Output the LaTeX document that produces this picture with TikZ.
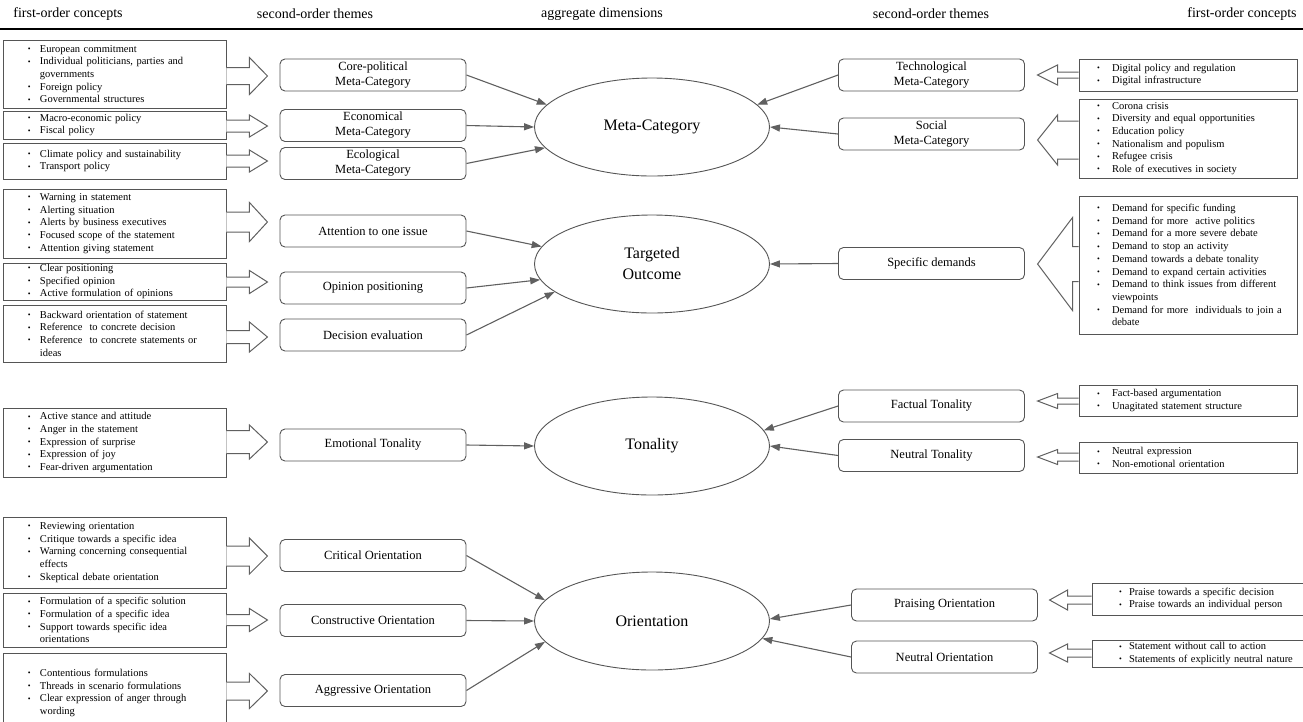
\documentclass[tikz,border=0pt]{standalone}
\usepackage{fontspec}
\setmainfont{Liberation Serif}
\usetikzlibrary{shapes.geometric,arrows.meta}

\definecolor{boxgray}{HTML}{555555}
\definecolor{linegray}{HTML}{606060}

\newlength{\bulind}
\newlength{\bulgap}
\newcommand{\itm}{\hspace*{\bulind}\makebox[\bulgap][l]{\raisebox{0.6pt}{\scalebox{0.75}{\textbullet}}}}
\newcommand{\cnt}{\hspace*{\bulind}\hspace*{\bulgap}}
% block arrows: node, centre y, shaft half, head half, shaft length, head length
\newcommand{\fatR}[6]{\draw[fat] (#1.east |- 0,#2) ++(0,-#3) -- ++(#5,0) -- ++(0,#3-#4) -- ++(#6,#4) -- ++(-#6,#4) -- ++(0,#3-#4) -- ++(-#5,0);}
\newcommand{\fatL}[6]{\draw[fat] (#1.west |- 0,#2) ++(0,-#3) -- ++(-#5,0) -- ++(0,#3-#4) -- ++(-#6,#4) -- ++(#6,#4) -- ++(0,#3-#4) -- ++(#5,0);}

\begin{document}
\begin{tikzpicture}[x=1pt,y=-1pt,
    head/.style={font=\fontsize{14}{16}\selectfont,inner sep=0pt},
    dim/.style={ellipse,draw=boxgray,line width=0.9pt,minimum width=235pt,minimum height=98pt,
        inner sep=0pt,align=center,font=\fontsize{16}{21}\selectfont},
    theme/.style={draw=boxgray,line width=0.9pt,rounded corners=5pt,minimum width=186pt,minimum height=32pt,
        inner sep=1pt,align=center,font=\fontsize{12.5}{15}\selectfont},
    lst/.style={draw=boxgray,line width=0.9pt,inner xsep=5pt,inner ysep=1pt,align=left,
        font=\fontsize{10.5}{12.7}\selectfont},
    lstL/.style={lst,text width=213pt,
        execute at begin node={\setlength{\bulind}{20pt}\setlength{\bulgap}{12pt}}},
    lstR/.style={lst,text width=208pt,
        execute at begin node={\setlength{\bulind}{13pt}\setlength{\bulgap}{15pt}}},
    lstRR/.style={lst,text width=210pt,
        execute at begin node={\setlength{\bulind}{22pt}\setlength{\bulgap}{10pt}}},
    link/.style={draw=linegray,line width=1.1pt,-{Triangle[length=10pt,width=7pt]}},
    fat/.style={draw=linegray,line width=1pt,fill=white}
  ]
\useasboundingbox (0,0) rectangle (1303,721);

% headings
\node[head] (h1) at (68,14)   {first-order concepts};
\node[head] (h2) at (315,14)  {second-order themes};
\node[head] (h3) at (602,14)  {aggregate dimensions};
\node[head] (h4) at (931,14)  {second-order themes};
\node[head] (h5) at (1242,14) {first-order concepts};
\draw[line width=1.5pt] (0,29) -- (1303,29);

% aggregate dimensions
\node[dim] (meta) at (652,127) {Meta-Category};
\node[dim] (targ) at (652,264) {Targeted\\Outcome};
\node[dim] (tone) at (652,446) {Tonality};
\node[dim] (ori)  at (652,621) {Orientation};

% second-order themes
\node[theme] (cpol) at (373,75)    {Core-political\\Meta-Category};
\node[theme] (econ) at (373,125.5) {Economical\\Meta-Category};
\node[theme] (ecol) at (373,163.5) {Ecological\\Meta-Category};
\node[theme] (attn) at (373,231)   {Attention to one issue};
\node[theme] (opin) at (373,288)   {Opinion positioning};
\node[theme] (deci) at (373,335)   {Decision evaluation};
\node[theme] (emot) at (373,445)   {Emotional Tonality};
\node[theme] (crit) at (373,555.5) {Critical Orientation};
\node[theme] (cons) at (373,620.5) {Constructive Orientation};
\node[theme] (aggr) at (373,690.5) {Aggressive Orientation};

\node[theme] (tech) at (931.5,75)    {Technological\\Meta-Category};
\node[theme] (soc)  at (931.5,134)   {Social\\Meta-Category};
\node[theme] (spec) at (931.5,263.5) {Specific demands};
\node[theme] (fact) at (931.5,406)   {Factual Tonality};
\node[theme] (neut) at (931.5,455.5) {Neutral Tonality};
\node[theme] (prai) at (944.5,605)   {Praising Orientation};
\node[theme] (neuo) at (944.5,657)   {Neutral Orientation};

% first-order concepts, left
\node[lstL,minimum height=68pt] (l1) at (114.5,74) {\itm European commitment\\\itm Individual politicians, parties and\\\cnt governments\\\itm Foreign policy\\\itm Governmental structures};
\node[lstL,minimum height=28pt] (l2) at (114.5,125) {\itm Macro-economic policy\\\itm Fiscal policy};
\node[lstL,minimum height=36pt] (l3) at (114.5,161) {\itm Climate policy and sustainability\\\itm Transport policy};
\node[lstL,minimum height=69pt] (l4) at (114.5,223.5) {\itm Warning in statement\\\itm Alerting situation\\\itm Alerts by business executives\\\itm Focused scope of the statement\\\itm Attention giving statement};
\node[lstL,minimum height=37pt] (l5) at (114.5,281.5) {\itm Clear positioning\\\itm Specified opinion\\\itm Active formulation of opinions};
\node[lstL,minimum height=57pt] (l6) at (114.5,333.5) {\itm Backward orientation of statement\\\itm Reference\ \ to concrete decision\\\itm Reference\ \ to concrete statements or\\\cnt ideas};
\node[lstL,minimum height=69pt] (l7) at (114.5,442.5) {\itm Active stance and attitude\\\itm Anger in the statement\\\itm Expression of surprise\\\itm Expression of joy\\\itm Fear-driven argumentation};
\node[lstL,minimum height=71pt] (l8) at (114.5,552.5) {\itm Reviewing orientation\\\itm Critique towards a specific idea\\\itm Warning concerning consequential\\\cnt effects\\\itm Skeptical debate orientation};
\node[lstL,minimum height=54pt] (l9) at (114.5,620) {\itm Formulation of a specific solution\\\itm Formulation of a specific idea\\\itm Support towards specific idea\\\cnt orientations};
\node[lstL,minimum height=80pt] (l10) at (114.5,693) {\itm Contentious formulations\\\itm Threads in scenario formulations\\\itm Clear expression of anger through\\\cnt wording};

% first-order concepts, right
\node[lstR,minimum height=32pt] (r1) at (1188,75) {\itm Digital policy and regulation\\\itm Digital infrastructure};
\node[lstR,minimum height=79pt] (r2) at (1188,138.5) {\itm Corona crisis\\\itm Diversity and equal opportunities\\\itm Education policy\\\itm Nationalism and populism\\\itm Refugee crisis\\\itm Role of executives in society};
\node[lstR,minimum height=138pt] (r3) at (1188,265) {\itm Demand for specific funding\\\itm Demand for more\ \ active politics\\\itm Demand for a more severe debate\\\itm Demand to stop an activity\\\itm Demand towards a debate tonality\\\itm Demand to expand certain activities\\\itm Demand to think issues from different\\\cnt viewpoints\\\itm Demand for more\ \ individuals to join a\\\cnt debate};
\node[lstR,minimum height=31pt] (r4) at (1188,400.5) {\itm Fact-based argumentation\\\itm Unagitated statement structure};
\node[lstR,minimum height=31pt] (r5) at (1188,457.5) {\itm Neutral expression\\\itm Non-emotional orientation};
\node[lstRR,minimum height=32pt] (r6) at (1202,599) {\itm Praise towards a specific decision\\\itm Praise towards an individual person};
\node[lstRR,minimum height=27pt] (r7) at (1202,653.5) {\itm Statement without call to action\\\itm Statements of explicitly neutral nature};

% block arrows
\fatR{l1}{76}{8.5}{18.5}{23}{18}
\fatR{l2}{126}{6}{11}{23}{18}
\fatR{l3}{161}{6}{11}{23}{18}
\fatR{l4}{222}{10}{19.5}{23}{18}
\fatR{l5}{282}{5}{11.5}{23}{18}
\fatR{l6}{337}{6.5}{15}{23}{18}
\fatR{l7}{442}{11.5}{17}{23}{18}
\fatR{l8}{556}{10}{18}{23}{18}
\fatR{l9}{620}{5.5}{11.5}{23}{18}
\fatR{l10}{691}{9}{17.5}{23}{18}

\fatL{r1}{75}{3}{10}{21}{20}
\fatL{r2}{140}{19}{25}{21}{20}
\fatL{r3}{264}{17.5}{46.5}{6}{35}
\fatL{r4}{401}{3}{7.5}{21}{20}
\fatL{r5}{457}{4}{7.5}{21}{20}
\fatL{r6}{600}{4}{10}{24}{18}
\fatL{r7}{653}{4}{9}{24}{18}

% links to the aggregate dimensions
\draw[link] (cpol.east) -- (meta.168);
\draw[link] (econ.east) -- (meta.180);
\draw[link] (ecol.east) -- (meta.191);
\draw[link] (tech.west) -- (meta.12);
\draw[link] (soc.west)  -- (meta.0);
\draw[link] (attn.east) -- (targ.171);
\draw[link] (opin.east) -- (targ.188);
\draw[link] (deci.east) -- (targ.196);
\draw[link] (spec.west) -- (targ.0);
\draw[link] (emot.east) -- (tone.180);
\draw[link] (fact.west) -- (tone.8);
\draw[link] (neut.west) -- (tone.0);
\draw[link] (crit.east) -- (ori.169);
\draw[link] (cons.east) -- (ori.180);
\draw[link] (aggr.east) -- (ori.191);
\draw[link] (prai.west) -- (ori.1);
\draw[link] (neuo.west) -- (ori.351);
\end{tikzpicture}
\end{document}
